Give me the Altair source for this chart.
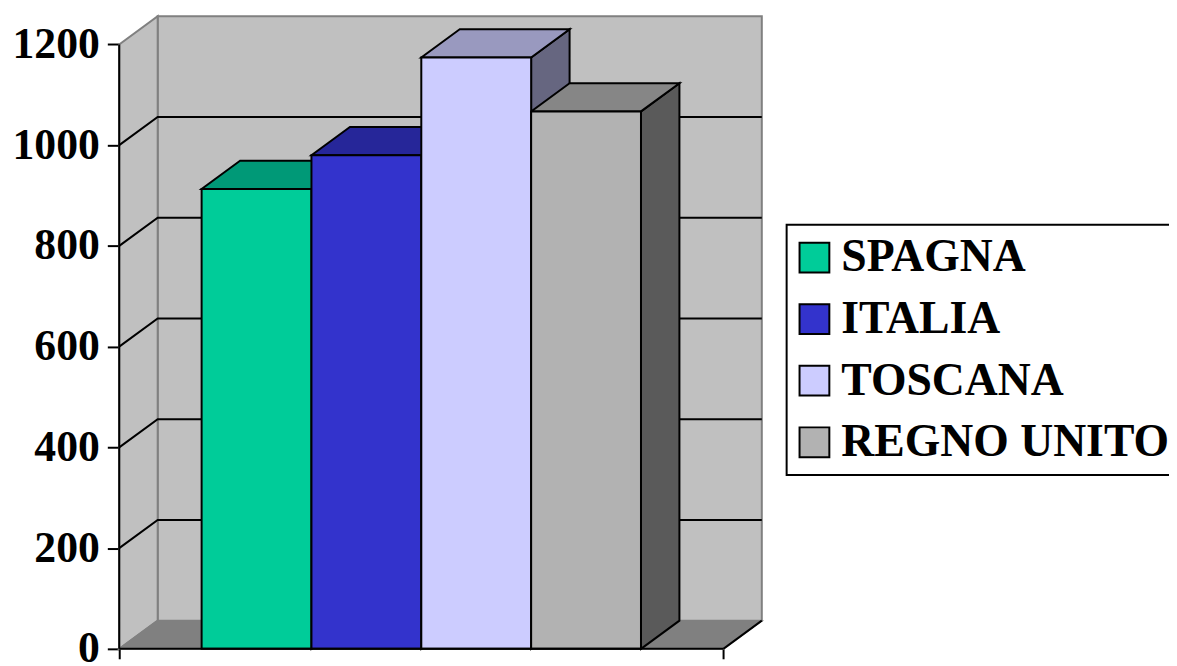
import altair as alt
import pandas as pd

# ---- data ----
series = ["SPAGNA", "ITALIA", "TOSCANA", "REGNO UNITO"]
values = [913, 980, 1174, 1067]
front_colors = ["#00CC99", "#3333CC", "#CCCCFF", "#B2B2B2"]
top_colors = ["#009977", "#262699", "#9999BF", "#868686"]
side_colors = ["#006B50", "#1B1B6B", "#666680", "#5A5A5A"]
y_ticks = [0, 200, 400, 600, 800, 1000, 1200]

# ---- 3D geometry (in data units) ----
GAP = 0.75          # half of the cluster gap, in bar widths
DX = 0.35           # depth offset along x (bar-width units)
DY = 56             # depth offset along y (value units)
YTOP = y_ticks[-1]
XFRONT = len(series) + 2 * GAP
XMAX = XFRONT + DX
YMAX = YTOP + DY

FONT = "Liberation Serif"

fronts, tops, sides = [], [], []
for i, (s, v) in enumerate(zip(series, values)):
    a = GAP + i
    b = a + 1
    fronts.append(dict(series=s, x=a, x2=b, y=0, y2=v))
    tops.append(dict(series=s, fill=top_colors[i], y=v, x=a, x2=b))
    tops.append(dict(series=s, fill=top_colors[i], y=v + DY, x=a + DX, x2=b + DX))
    sides.append(dict(series=s, fill=side_colors[i], x=b, y=0, y2=v))
    sides.append(dict(series=s, fill=side_colors[i], x=b + DX, y=DY, y2=v + DY))
fronts = pd.DataFrame(fronts)
tops = pd.DataFrame(tops)
sides = pd.DataFrame(sides)

grid = []
for v in y_ticks[1:-1]:
    grid += [dict(g=v, o=0, x=0, y=v), dict(g=v, o=1, x=DX, y=v + DY),
             dict(g=v, o=2, x=XMAX, y=v + DY)]
grid = pd.DataFrame(grid)

back_wall = pd.DataFrame([dict(x=DX, x2=XMAX, y=DY, y2=YMAX)])
left_wall = pd.DataFrame([dict(x=0, y=0, y2=YTOP), dict(x=DX, y=DY, y2=YMAX)])
floor = pd.DataFrame([dict(y=0, x=0, x2=XFRONT), dict(y=DY, x=DX, x2=XMAX)])
axis_lines = pd.DataFrame([
    dict(x=0, y=0, x2=0, y2=YTOP),
    dict(x=0, y=0, x2=XFRONT, y2=0),
    dict(x=XFRONT, y=0, x2=XMAX, y2=DY),
])

xs = alt.Scale(domain=[0, XMAX], nice=False, zero=False)
ys = alt.Scale(domain=[0, YMAX], nice=False, zero=False)
x_axis = alt.Axis(values=[0, XFRONT], domain=False, labels=False, tickSize=10,
                  tickWidth=2, tickColor="black", grid=False, title=None)
y_axis = alt.Axis(values=y_ticks, format="d", domain=False, tickSize=12, tickWidth=2,
                  tickColor="black", grid=False, title=None, labelFont=FONT,
                  labelFontSize=44, labelFontWeight="bold", labelColor="black",
                  labelPadding=8, labelOverlap=False, labelFlush=False)


def X(f="x"):
    return alt.X(f"{f}:Q", scale=xs, axis=x_axis, stack=None)


def Y(f="y"):
    return alt.Y(f"{f}:Q", scale=ys, axis=y_axis, stack=None)


back = alt.Chart(back_wall).mark_rect(fill="#C0C0C0", stroke="#808080", strokeWidth=2).encode(
    x=X(), x2="x2", y=Y(), y2="y2")
left = alt.Chart(left_wall).mark_area(orient="vertical", fill="#C0C0C0", stroke="#808080",
                                      strokeWidth=2).encode(x=X(), y=Y(), y2="y2")
flo = alt.Chart(floor).mark_area(orient="horizontal", fill="#808080", stroke="#808080",
                                 strokeWidth=1.5).encode(y=Y(), x=X(), x2="x2")
gridl = alt.Chart(grid).mark_line(color="black", strokeWidth=2).encode(
    x=X(), y=Y(), detail="g:N", order="o:Q")
side_l = alt.Chart(sides).mark_area(orient="vertical", stroke="black", strokeWidth=2).encode(
    x=X(), y=Y(), y2="y2", detail="series:N",
    fill=alt.Fill("fill:N", scale=None, legend=None))
top_l = alt.Chart(tops).mark_area(orient="horizontal", stroke="black", strokeWidth=2).encode(
    y=Y(), x=X(), x2="x2", detail="series:N",
    fill=alt.Fill("fill:N", scale=None, legend=None))
front_l = alt.Chart(fronts).mark_rect(stroke="black", strokeWidth=2, opacity=1).encode(
    x=X(), x2="x2", y=Y(), y2="y2",
    color=alt.Color("series:N", sort=series,
                    scale=alt.Scale(domain=series, range=front_colors),
                    legend=alt.Legend(
                        title=None, orient="none", legendX=672, legendY=210,
                        strokeColor="black", fillColor="white", padding=10,
                        symbolType="square", symbolSize=900, symbolOffset=-5,
                        symbolStrokeColor="black", symbolStrokeWidth=2,
                        symbolOpacity=1, labelFont=FONT, labelFontSize=46,
                        labelFontWeight="bold", labelColor="black",
                        labelOffset=4, labelLimit=1000, rowPadding=16)))
rules = alt.Chart(axis_lines).mark_rule(color="black", strokeWidth=2).encode(
    x=X(), y=Y(), x2="x2", y2="y2")

chart = alt.layer(back, left, flo, gridl, side_l, top_l, front_l, rules).properties(
    width=647, height=637,
    autosize=alt.AutoSizeParams(type="none"),
    padding={"left": 112, "top": 6, "right": 410, "bottom": 15},
    background="white",
).configure_view(stroke=None).configure_legend(strokeWidth=2)

chart.save("out.html", embed_options={"renderer": "svg", "actions": False})
